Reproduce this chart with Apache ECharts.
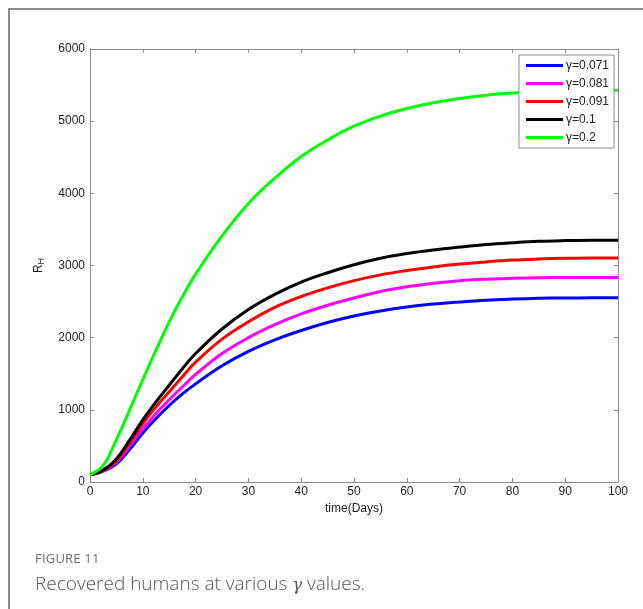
<!DOCTYPE html>
<html>
<head>
<meta charset="utf-8">
<script src="https://cdn.jsdelivr.net/npm/echarts@6/dist/echarts.min.js"></script>
<style>
  html, body { margin: 0; padding: 0; background: #fff; }
  #wrap { position: relative; width: 643px; height: 609px; overflow: hidden; }
  #frame { position: absolute; left: 8px; top: 8px; width: 700px; height: 700px;
           border-left: 2px solid #8a8a8a; border-top: 2px solid #8a8a8a; }
  #chart { position: absolute; left: 0; top: 0; width: 643px; height: 609px; }
  #figno { position: absolute; left: 35px; top: 549px; font-family: "Open Sans", sans-serif;
           font-size: 13px; color: #6d6d6d; letter-spacing: 0.2px; }
  #cap { position: absolute; left: 35px; top: 570px; font-family: "Open Sans", sans-serif;
         font-weight: 300; font-size: 19px; color: #555; }
  #cap i { font-family: "DejaVu Serif", serif; font-size: 16px; }
</style>
</head>
<body>
<div id="wrap">
  <div id="frame"></div>
  <div id="chart"></div>
  <div id="figno">FIGURE 11</div>
  <div id="cap">Recovered humans at various <i>γ</i> values.</div>
</div>
<script>
// time points (days)
const days = [0, 2.5, 5, 7.5, 10, 12.5, 15, 17.5, 20, 25, 30, 35, 40, 45, 50, 55, 60, 65, 70, 75, 80, 85, 90, 95, 100];

// recovered humans R_H for each recovery rate
const gamma0071 = [100, 150, 250, 450, 680, 880, 1060, 1220, 1360, 1610, 1810, 1970, 2100, 2210, 2300, 2370, 2425, 2465, 2495, 2520, 2535, 2545, 2550, 2552, 2553];
const gamma0081 = [100, 155, 280, 500, 740, 950, 1140, 1320, 1490, 1780, 2000, 2180, 2330, 2450, 2550, 2640, 2705, 2755, 2790, 2810, 2822, 2830, 2834, 2835, 2835];
const gamma0091 = [100, 160, 295, 540, 810, 1040, 1250, 1460, 1660, 1980, 2220, 2420, 2570, 2690, 2790, 2870, 2930, 2980, 3020, 3050, 3075, 3090, 3100, 3105, 3105];
const gamma01   = [100, 165, 320, 580, 860, 1110, 1340, 1570, 1780, 2120, 2390, 2600, 2770, 2900, 3010, 3100, 3165, 3215, 3255, 3290, 3315, 3335, 3345, 3350, 3350];
const gamma02   = [100, 230, 590, 1000, 1420, 1830, 2220, 2570, 2880, 3410, 3860, 4210, 4510, 4740, 4930, 5070, 5175, 5255, 5315, 5360, 5390, 5410, 5422, 5428, 5430];

const seriesNames = ['γ=0.071', 'γ=0.081', 'γ=0.091', 'γ=0.1', 'γ=0.2'];
const seriesData = [gamma0071, gamma0081, gamma0091, gamma01, gamma02];
const seriesColors = ['#0000ff', '#ff00ff', '#ff0000', '#000000', '#00ff00'];

const xTicks = { min: 0, max: 100, interval: 10 };
const yTicks = { min: 0, max: 6000, interval: 1000 };

const axisColor = '#8c8c8c';
const labelStyle = { fontFamily: 'Liberation Sans, Arial, sans-serif', fontSize: 12, color: '#222' };

const chart = echarts.init(document.getElementById('chart'), null, { renderer: 'canvas' });

const boxAxis = (extra) => Object.assign({
  type: 'value',
  splitLine: { show: false },
  axisLine: { show: true, onZero: false, lineStyle: { color: axisColor, width: 1 } },
  axisTick: { show: true, inside: true, length: 4, lineStyle: { color: axisColor } }
}, extra);

chart.setOption({
  animation: false,
  backgroundColor: 'transparent',
  grid: { left: 90, right: 25, top: 49, bottom: 127, containLabel: false },
  legend: {
    orient: 'vertical',
    left: 519,
    top: 55,
    padding: [4, 5, 4, 7],
    itemGap: 5,
    itemWidth: 37,
    itemHeight: 3,
    icon: 'rect',
    borderColor: '#8c8c8c',
    borderWidth: 1,
    backgroundColor: '#fff',
    textStyle: Object.assign({}, labelStyle, { lineHeight: 13, padding: [0, 0, 0, -2] }),
    data: seriesNames
  },
  xAxis: [
    boxAxis({
      min: xTicks.min, max: xTicks.max, interval: xTicks.interval,
      position: 'bottom',
      name: 'time(Days)', nameLocation: 'middle', nameGap: 20,
      nameTextStyle: labelStyle,
      axisLabel: Object.assign({}, labelStyle, { margin: 4 })
    }),
    boxAxis({
      min: xTicks.min, max: xTicks.max, interval: xTicks.interval,
      position: 'top', axisLabel: { show: false }
    })
  ],
  yAxis: [
    boxAxis({
      min: yTicks.min, max: yTicks.max, interval: yTicks.interval,
      position: 'left',
      name: 'R{sub|H}', nameLocation: 'middle', nameGap: 44, nameRotate: 90,
      nameTextStyle: Object.assign({}, labelStyle, {
        rich: { sub: { fontFamily: 'Liberation Sans, Arial, sans-serif', fontSize: 9, color: '#222', verticalAlign: 'bottom', padding: [6, 0, 0, 0] } }
      }),
      axisLabel: Object.assign({}, labelStyle, { margin: 5, formatter: (v) => String(v) })
    }),
    boxAxis({
      min: yTicks.min, max: yTicks.max, interval: yTicks.interval,
      position: 'right', axisLabel: { show: false }
    })
  ],
  series: seriesNames.map((name, i) => ({
    name: name,
    type: 'line',
    xAxisIndex: 0,
    yAxisIndex: 0,
    smooth: 0.4,
    showSymbol: false,
    symbol: 'none',
    lineStyle: { color: seriesColors[i], width: 3 },
    itemStyle: { color: seriesColors[i] },
    data: days.map((d, k) => [d, seriesData[i][k]])
  }))
});
</script>
</body>
</html>
